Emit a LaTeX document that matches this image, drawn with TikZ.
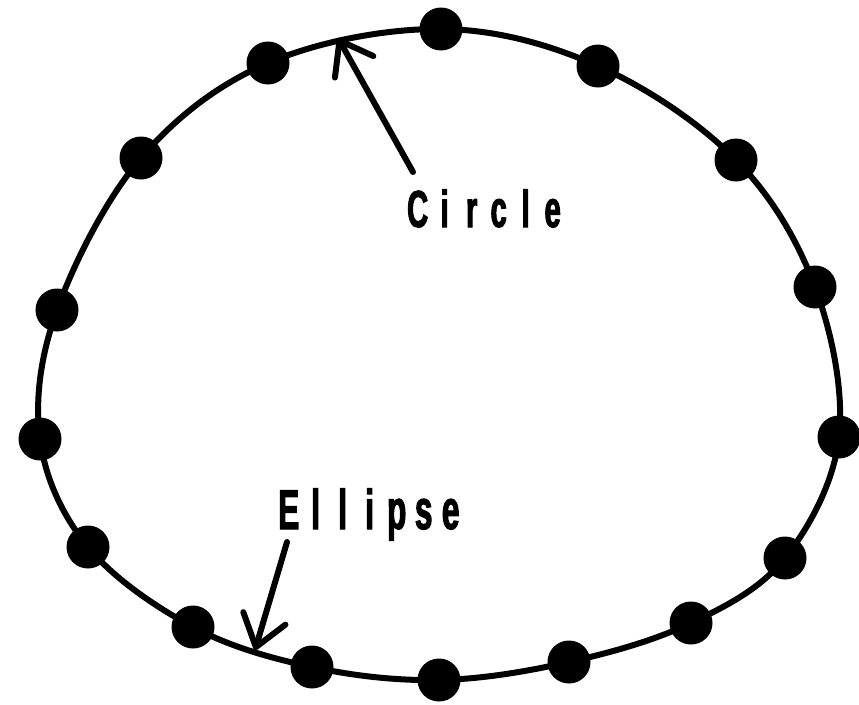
\documentclass[tikz,border=0pt]{standalone}
\usepackage{fontspec}
\usetikzlibrary{arrows.meta}
\newfontfamily\lblfont{Liberation Sans}[FakeStretch=0.56, FakeBold=2]
\newcommand\cell[1]{\makebox[27pt]{#1}}
\tikzset{
  dot/.style={circle, fill=black, inner sep=0pt, minimum size=43pt},
  curve/.style={line width=6pt},
  pointer/.style={line width=6pt, line cap=round,
    -{Straight Barb[length=30pt 0 0, width=44pt 0 0, round]}},
  lbl/.style={inner sep=0pt, anchor=base west, font=\lblfont\bfseries}
}
\begin{document}
\begin{tikzpicture}[x=1pt, y=-1pt]
\useasboundingbox (0,0) rectangle (859,704);
\node[dot] (d1) at (441,29) {};
\node[dot] (d2) at (598,66) {};
\node[dot] (d3) at (736,160) {};
\node[dot] (d4) at (815,287) {};
\node[dot] (d5) at (839,437) {};
\node[dot] (d6) at (785,558) {};
\node[dot] (d7) at (691,623) {};
\node[dot] (d8) at (569,662) {};
\node[dot] (d9) at (439,680) {};
\node[dot] (d10) at (312,667) {};
\node[dot] (d11) at (193,627) {};
\node[dot] (d12) at (88,547) {};
\node[dot] (d13) at (40,439) {};
\node[dot] (d14) at (57,310) {};
\node[dot] (d15) at (141,158) {};
\node[dot] (d16) at (268,63) {};
\draw[curve] plot[smooth cycle, tension=0.6] coordinates {(d1) (d2) (d3) (d4) (d5) (d6) (d7) (d8) (d9) (d10) (d11) (d12) (d13) (d14) (d15) (d16)};
\node[lbl, font=\lblfont\bfseries\fontsize{52}{56}\selectfont] (circ) at (404,227) {\cell{C}\cell{i}\cell{r}\cell{c}\cell{l}\cell{e}};
\node[lbl, font=\lblfont\bfseries\fontsize{56}{60}\selectfont] (ell) at (275,529) {\cell{E}\cell{l}\cell{l}\cell{i}\cell{p}\cell{s}\cell{e}};
\coordinate (ctail) at (413,172);
\coordinate (ctip) at (338,38);
\coordinate (etail) at (287,542);
\coordinate (etip) at (255,650);
\draw[pointer] (ctail) -- (ctip);
\draw[pointer] (etail) -- (etip);
\end{tikzpicture}
\end{document}
